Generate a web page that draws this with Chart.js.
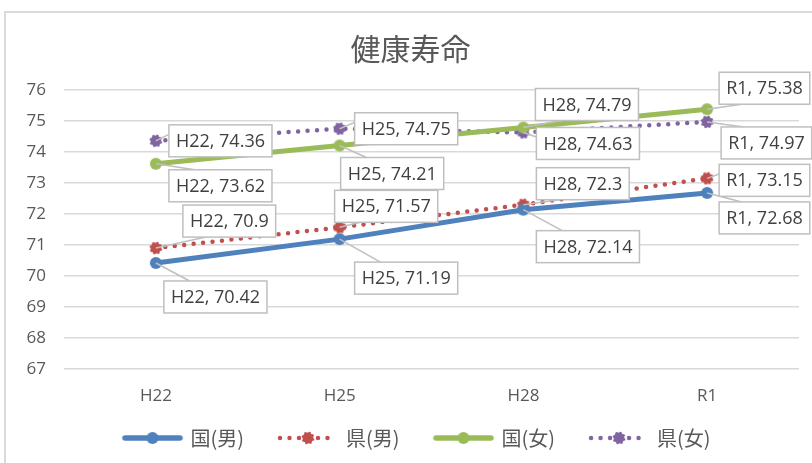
<!DOCTYPE html>
<html lang="ja">
<head>
<meta charset="UTF-8">
<title>健康寿命</title>
<script src="https://cdn.jsdelivr.net/npm/chart.js"></script>
<style>
  html, body { margin: 0; padding: 0; background: #fff; overflow: hidden; }
  #wrap { width: 812px; height: 463px; overflow: hidden; }
</style>
</head>
<body>
<div id="wrap">
  <canvas id="myChart" width="826" height="463"></canvas>
</div>
<script>
// データ
const categories = ['H22', 'H25', 'H28', 'R1'];
const kuniMale   = [70.42, 71.19, 72.14, 72.68];
const kenMale    = [70.9, 71.57, 72.3, 73.15];
const kuniFemale = [73.62, 74.21, 74.79, 75.38];
const kenFemale  = [74.36, 74.75, 74.63, 74.97];
const seriesNames = ['国(男)', '県(男)', '国(女)', '県(女)'];

// ラベル枠の位置（点からのずれ, px）
const labelOffsets = [
  [[8, 18], [15, 23], [13, 21], [12, 9]],
  [[27, -43], [-5, -37], [13, -37], [12, -14]],
  [[13, 6], [1, 12], [12, -39], [12, -37]],
  [[13, -16], [15, -16], [13, -5], [14, 5]]
];

const colors = ['#4f81bd', '#c0504d', '#9bbb59', '#8064a2'];
const dotted = [false, true, false, true];
const textColor = '#595959';

// マーカー（点線系列はふちが少しでこぼこ）
function makeMarker(color, bumpy) {
  const c = document.createElement('canvas');
  c.width = 16; c.height = 16;
  const g = c.getContext('2d');
  g.fillStyle = color;
  g.beginPath();
  g.arc(8, 8, bumpy ? 5.4 : 6, 0, Math.PI * 2);
  g.fill();
  if (bumpy) {
    for (let k = 0; k < 8; k++) {
      const a = k * Math.PI / 4 + 0.3;
      g.beginPath();
      g.arc(8 + Math.cos(a) * 5.2, 8 + Math.sin(a) * 5.2, 1.3, 0, Math.PI * 2);
      g.fill();
    }
  }
  return c;
}
const markers = colors.map((c, i) => makeMarker(c, dotted[i]));

// 凡例アイコン（線＋マーカー）
const ICON_W = 82;
function makeIcon(color, isDotted, marker) {
  const c = document.createElement('canvas');
  c.width = ICON_W; c.height = 16;
  const g = c.getContext('2d');
  const x0 = 18, x1 = 78, cx = 48;
  g.strokeStyle = color;
  g.lineWidth = isDotted ? 4.5 : 5.5;
  g.lineCap = 'round';
  if (isDotted) g.setLineDash([0, 9.5]);
  g.beginPath();
  if (isDotted) { g.moveTo(x0 + 2, 8); g.lineTo(x1 - 2, 8); }
  else { g.moveTo(x0 + 2.5, 8); g.lineTo(x1 - 2.5, 8); }
  g.stroke();
  g.drawImage(marker, cx - 8, 0);
  return c;
}
const icons = colors.map((c, i) => makeIcon(c, dotted[i], markers[i]));

// 枠線
const framePlugin = {
  id: 'frame',
  beforeDraw(chart) {
    const ctx = chart.ctx;
    ctx.save();
    ctx.fillStyle = '#fff';
    ctx.fillRect(0, 0, chart.width, chart.height);
    ctx.strokeStyle = '#d9d9d9';
    ctx.lineWidth = 2;
    ctx.strokeRect(5, 12, 900, 600);
    ctx.restore();
  }
};

// データラベル（吹き出し）
const calloutPlugin = {
  id: 'callout',
  afterDatasetsDraw(chart) {
    const ctx = chart.ctx;
    ctx.save();
    ctx.font = '18px "Open Sans"';
    ctx.textBaseline = 'middle';
    const boxes = [];
    chart.data.datasets.forEach((ds, di) => {
      const meta = chart.getDatasetMeta(di);
      meta.data.forEach((pt, i) => {
        const text = categories[i] + ', ' + ds.data[i];
        const w = ctx.measureText(text).width + 14;
        const h = 32;
        const off = labelOffsets[di][i];
        const bx = pt.x + off[0], by = pt.y + off[1];
        let tx, ty;
        if (by > pt.y) { tx = bx + w * 0.25; ty = by; }
        else if (by + h < pt.y) { tx = bx + w * 0.25; ty = by + h; }
        else { tx = bx; ty = by + h * 0.3; }
        boxes.push({ pt, text, w, h, bx, by, tx, ty });
      });
    });
    ctx.strokeStyle = '#bfbfbf';
    ctx.lineWidth = 1.5;
    boxes.forEach(b => {
      ctx.beginPath();
      ctx.moveTo(b.pt.x, b.pt.y);
      ctx.lineTo(b.tx, b.ty);
      ctx.stroke();
    });
    boxes.forEach(b => {
      ctx.fillStyle = '#fff';
      ctx.fillRect(b.bx, b.by, b.w, b.h);
      ctx.strokeRect(b.bx, b.by, b.w, b.h);
      ctx.fillStyle = '#404040';
      ctx.fillText(b.text, b.bx + 7, b.by + b.h / 2 + 1);
    });
    ctx.restore();
  }
};

function makeDataset(label, data, i) {
  return {
    label: label,
    data: data,
    borderColor: colors[i],
    backgroundColor: colors[i],
    borderWidth: dotted[i] ? 4.5 : 5,
    borderDash: dotted[i] ? [0, 9.5] : [],
    borderCapStyle: 'round',
    pointStyle: markers[i],
    pointRadius: 6,
    pointBorderWidth: 0,
    pointBackgroundColor: colors[i],
    tension: 0
  };
}

const ctx = document.querySelector('#myChart').getContext('2d');
const myChart = new Chart(ctx, {
  type: 'line',
  data: {
    labels: categories,
    datasets: [
      makeDataset(seriesNames[0], kuniMale, 0),
      makeDataset(seriesNames[1], kenMale, 1),
      makeDataset(seriesNames[2], kuniFemale, 2),
      makeDataset(seriesNames[3], kenFemale, 3)
    ]
  },
  options: {
    responsive: false,
    animation: false,
    devicePixelRatio: 1,
    layout: { padding: { left: 22, right: 27, top: 0, bottom: 5 } },
    scales: {
      x: {
        offset: true,
        grid: { display: false, drawTicks: false },
        border: { display: false },
        ticks: { color: textColor, font: { family: 'Open Sans', size: 17 }, padding: 17 },
        afterFit(scale) { scale.height = 37; }
      },
      y: {
        min: 67,
        max: 76,
        grid: { color: '#d9d9d9', lineWidth: 1.5, drawTicks: false },
        border: { display: false },
        ticks: { stepSize: 1, color: textColor, font: { family: 'Open Sans', size: 17 }, padding: 18 },
        afterFit(scale) { scale.width = 42; }
      }
    },
    plugins: {
      title: {
        display: true,
        text: '健康寿命',
        color: textColor,
        font: { family: 'Noto Sans CJK JP', size: 30, weight: 'normal' },
        padding: { top: 31, bottom: 23 }
      },
      legend: {
        position: 'bottom',
        labels: {
          usePointStyle: true,
          pointStyleWidth: 70,
          padding: 22,
          color: textColor,
          font: { family: 'Noto Sans CJK JP', size: 20 },
          generateLabels(chart) {
            const items = Chart.defaults.plugins.legend.labels.generateLabels(chart);
            items.forEach((it, i) => { it.pointStyle = icons[i]; });
            return items;
          }
        }
      },
      tooltip: { enabled: false }
    }
  },
  plugins: [framePlugin, calloutPlugin]
});
</script>
</body>
</html>
